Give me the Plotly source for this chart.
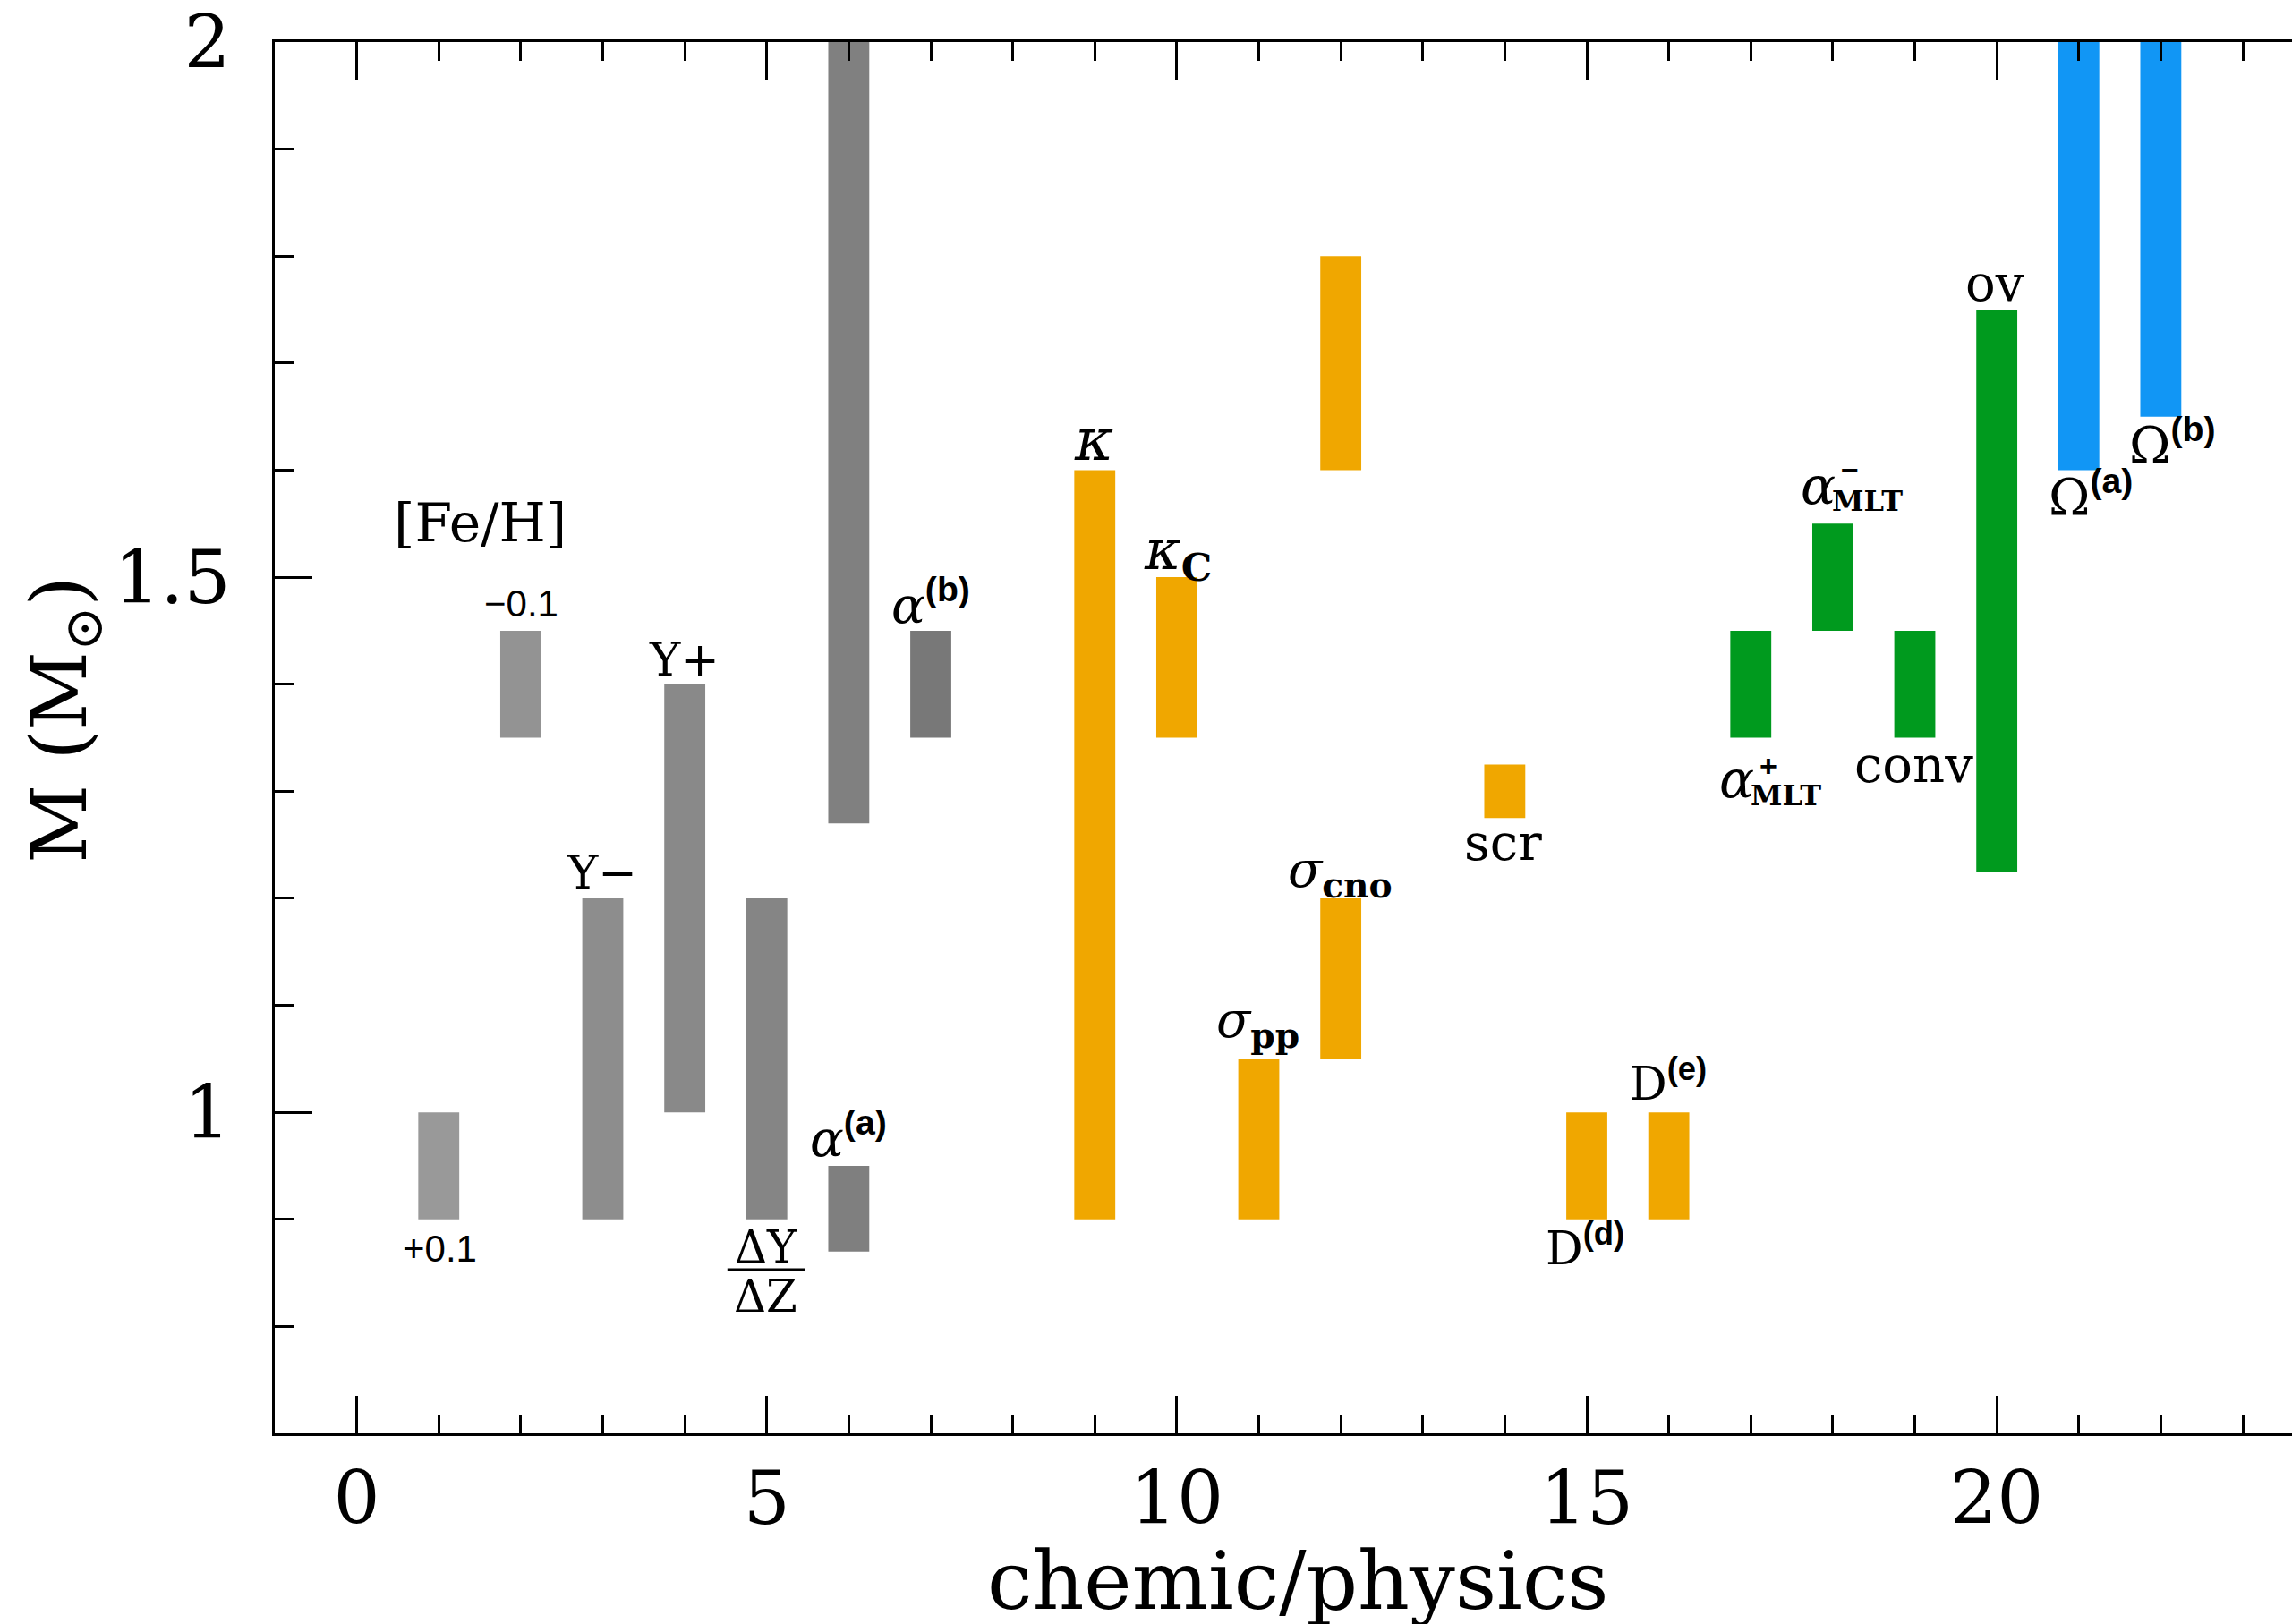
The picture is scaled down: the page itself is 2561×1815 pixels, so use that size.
import plotly.graph_objects as go

# ---- bar extents (M / Msun) for each modelling ingredient ----
# chemical composition
chem_x = [1, 2, 3, 4, 5, 6, 6, 7]
chem_lo = [0.90, 1.35, 0.90, 1.00, 0.90, 1.27, 0.87, 1.35]
chem_hi = [1.00, 1.45, 1.20, 1.40, 1.20, 2.00, 0.95, 1.45]
# micro-physics
micro_x = [9, 10, 11, 12, 12, 14, 15, 16]
micro_lo = [0.90, 1.35, 0.90, 1.05, 1.60, 1.275, 0.90, 0.90]
micro_hi = [1.60, 1.50, 1.05, 1.20, 1.80, 1.325, 1.00, 1.00]
# macro-physics (convection)
macro_x = [17, 18, 19, 20]
macro_lo = [1.35, 1.45, 1.35, 1.225]
macro_hi = [1.45, 1.55, 1.45, 1.75]
# rotation
rot_x = [21, 22]
rot_lo = [1.60, 1.65]
rot_hi = [2.00, 2.00]

x_tick_vals = [0, 5, 10, 15, 20]
x_tick_text = ["0", "5", "10", "15", "20"]
y_tick_vals = [1.0, 1.5, 2.0]
y_tick_text = ["1", "1.5", "2"]

# ---- styling ----
SERIF = "DejaVu Serif"
SANS = "Liberation Sans"
chem_colors = ["#999999", "#939393", "#8d8d8d", "#898989", "#858585",
               "#808080", "#7f7f7f", "#787878"]
ORANGE = "#f0a700"
GREEN = "#009a1e"
BLUE = "#1196f5"
BAR_W = 0.5

fig = go.Figure()


def add_bars(xs, lo, hi, color):
    fig.add_trace(go.Bar(
        x=xs,
        y=[h - l for l, h in zip(lo, hi)],
        base=lo,
        width=BAR_W,
        marker=dict(color=color, line=dict(width=0)),
        hoverinfo="skip",
    ))


add_bars(chem_x, chem_lo, chem_hi, chem_colors)
add_bars(micro_x, micro_lo, micro_hi, ORANGE)
add_bars(macro_x, macro_lo, macro_hi, GREEN)
add_bars(rot_x, rot_lo, rot_hi, BLUE)


def sans_b(t):
    return f"<span style='font-family:{SANS};font-weight:bold'>{t}</span>"


def sans(t):
    return f"<span style='font-family:{SANS}'>{t}</span>"


def serif_b(t):
    return f"<span style='font-family:{SERIF};font-weight:bold'>{t}</span>"


# (text, x, y, font size)
labels = [
    ("[Fe/H]", 1.51, 1.551, 60),
    (sans("\u22120.1"), 2.01, 1.475, 42),
    (sans("+0.1"), 1.015, 0.873, 42),
    ("Y\u2212", 2.99, 1.224, 52),
    ("Y+", 3.99, 1.423, 52),
    ("\u0394Y", 4.99, 0.874, 50),
    ("\u0394Z", 4.99, 0.828, 50),
    ("<i>\u03b1</i><sup>" + sans_b("(a)") + "</sup>", 6.0, 0.978, 56),
    ("<i>\u03b1</i><sup>" + sans_b("(b)") + "</sup>", 7.0, 1.477, 56),
    ("<i>\u03ba</i>", 8.99, 1.628, 66),
    ("<i>\u03ba</i><sub>" + serif_b("C") + "</sub>", 10.01, 1.522, 62),
    ("<i>\u03c3</i><sub>" + serif_b("pp") + "</sub>", 10.99, 1.083, 56),
    ("<i>\u03c3</i><sub>" + serif_b("cno") + "</sub>", 11.99, 1.224, 56),
    ("scr", 13.98, 1.252, 56),
    ("D<sup>" + sans_b("(d)") + "</sup>", 14.98, 0.876, 52),
    ("D<sup>" + sans_b("(e)") + "</sup>", 15.99, 1.030, 52),
    ("<i>\u03b1</i>", 16.83, 1.311, 58),
    (sans_b("+"), 17.21, 1.324, 34),
    (serif_b("MLT"), 17.43, 1.296, 32),
    ("<i>\u03b1</i>", 17.82, 1.585, 58),
    (sans_b("\u2212"), 18.21, 1.600, 34),
    (serif_b("MLT"), 18.42, 1.571, 32),
    ("conv", 18.99, 1.325, 56),
    ("ov", 19.98, 1.775, 56),
    ("\u03a9<sup>" + sans_b("(a)") + "</sup>", 21.14, 1.578, 56),
    ("\u03a9<sup>" + sans_b("(b)") + "</sup>", 22.14, 1.626, 56),
]

for text, x, y, size in labels:
    fig.add_annotation(x=x, y=y, xref="x", yref="y", text=text,
                       showarrow=False, xanchor="center", yanchor="middle",
                       font=dict(family=SERIF, size=size, color="black"))

# fraction bar of dY/dZ
fig.add_shape(type="line", xref="x", yref="y", x0=4.52, x1=5.47,
              y0=0.853, y1=0.853, line=dict(color="black", width=3))

# axis titles
fig.add_annotation(x=0.507, y=-0.106, xref="paper", yref="paper",
                   text="chemic/physics", showarrow=False,
                   xanchor="center", yanchor="middle",
                   font=dict(family=SERIF, size=90, color="black"))
fig.add_annotation(x=-0.104, y=0.513, xref="paper", yref="paper",
                   text="M (M<sub>\u2299</sub>)", showarrow=False,
                   textangle=-90, xanchor="center", yanchor="middle",
                   font=dict(family=SERIF, size=86, color="black"))

axis_common = dict(
    showline=True, linewidth=3, linecolor="black",
    ticks="inside", tickwidth=3, tickcolor="black", ticklen=42,
    showgrid=False, zeroline=False,
    tickfont=dict(family=SERIF, size=82, color="black"),
    ticklabeloverflow="allow",
)

fig.update_xaxes(
    **axis_common,
    range=[-1, 23.6],
    mirror="ticks",
    tickmode="array", tickvals=x_tick_vals, ticktext=x_tick_text,
    ticklabelstandoff=0,
    minor=dict(tickmode="linear", tick0=0, dtick=1, ticks="inside",
               ticklen=21, tickwidth=3, tickcolor="black", showgrid=False),
)
fig.update_yaxes(
    **axis_common,
    range=[0.7, 2.0],
    mirror=False,
    tickmode="array", tickvals=y_tick_vals, ticktext=y_tick_text,
    ticklabelstandoff=30,
    minor=dict(tickmode="linear", tick0=0, dtick=0.1, ticks="inside",
               ticklen=21, tickwidth=3, tickcolor="black", showgrid=False),
)

fig.update_layout(
    width=2561, height=1815,
    margin=dict(l=307, r=0, t=47, b=213, pad=0),
    plot_bgcolor="white", paper_bgcolor="white",
    showlegend=False, barmode="overlay",
)

fig.write_html("out.html")
